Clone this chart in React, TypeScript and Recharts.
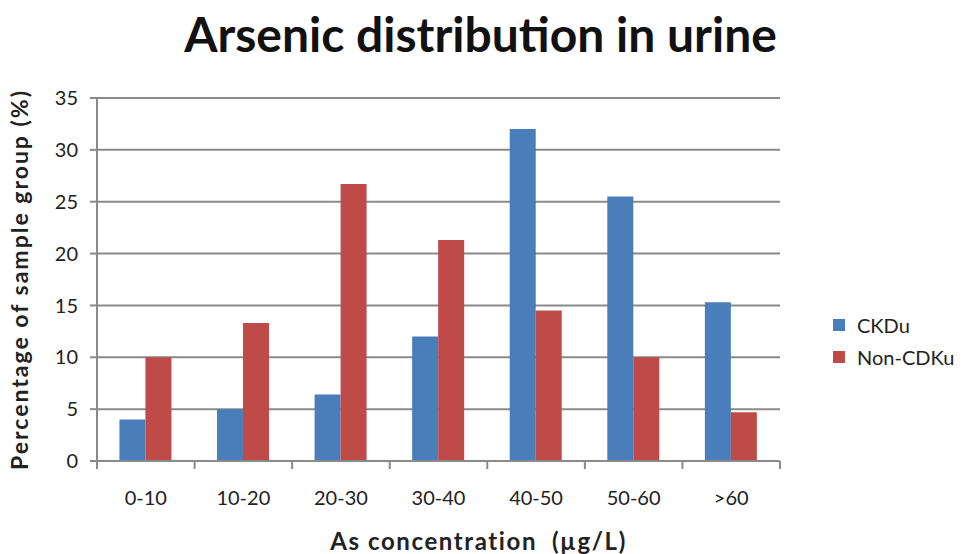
import React from 'react';
import { BarChart, Bar, XAxis, YAxis, CartesianGrid, Legend } from 'recharts';

const ranges = ['0-10', '10-20', '20-30', '30-40', '40-50', '50-60', '>60'];
const ckdu = [4, 5, 6.4, 12, 32, 25.5, 15.3];
const nonCdku = [10, 13.3, 26.7, 21.3, 14.5, 10, 4.7];
const yTicks = [0, 5, 10, 15, 20, 25, 30, 35];

const data = ranges.map((range, i) => ({ range, ckdu: ckdu[i], nonCdku: nonCdku[i] }));

const FONT = 'Lato, "Open Sans", sans-serif';
const GRID = '#8a8a8a';
const TICK_SIZE = 8;
const TICK_MARGIN = 14;

// category ticks: label in the middle, tick marks on the band edges
const CategoryTick = (props: any) => {
  const { x, y, payload, width, visibleTicksCount, index } = props;
  const half = width / visibleTicksCount / 2;
  const axisY = y - TICK_MARGIN - TICK_SIZE;
  return (
    <g>
      <line x1={x - half} x2={x - half} y1={axisY} y2={axisY + TICK_SIZE} stroke={GRID} strokeWidth={2} />
      {index === visibleTicksCount - 1 && (
        <line x1={x + half} x2={x + half} y1={axisY} y2={axisY + TICK_SIZE} stroke={GRID} strokeWidth={2} />
      )}
      <text x={x} y={y + 8} dy="0.71em" textAnchor="middle" fontFamily={FONT} fontSize={20} fill="#222">
        {payload.value}
      </text>
    </g>
  );
};

const renderLegend = (props: any) => {
  const { payload } = props;
  return (
    <div style={{ fontFamily: FONT, fontSize: 20, color: '#222' }}>
      {payload.map((entry: any) => (
        <div key={entry.value} style={{ display: 'flex', alignItems: 'center', height: 32 }}>
          <span style={{ width: 12, height: 12, background: entry.color, display: 'inline-block', marginRight: 12 }} />
          <span>{entry.value}</span>
        </div>
      ))}
    </div>
  );
};

export default function App() {
  return (
    <div style={{ position: 'absolute', left: 0, top: 0, width: 965, height: 554, background: '#fff' }}>
      <div
        style={{
          position: 'absolute',
          left: 0,
          width: 965,
          top: 5,
          textAlign: 'center',
          fontFamily: FONT,
          fontWeight: 700,
          fontSize: 48,
          color: '#111',
        }}
      >
        <span style={{ position: 'relative', left: -2 }}>Arsenic distribution in urine</span>
      </div>
      <BarChart
        width={965}
        height={554}
        data={data}
        margin={{ top: 98, right: 185, left: 0, bottom: 0 }}
        barCategoryGap="23%"
        barGap={0}
      >
        <CartesianGrid vertical={false} stroke={GRID} strokeWidth={2} />
        <XAxis
          dataKey="range"
          height={93}
          stroke={GRID}
          strokeWidth={2}
          tickLine={false}
          tickSize={TICK_SIZE}
          tickMargin={TICK_MARGIN}
          tick={<CategoryTick />}
          interval={0}
          label={{
            value: 'As concentration\u00a0\u00a0(µg/L)',
            position: 'insideBottom',
            offset: 4,
            dx: 40,
            style: { fontFamily: FONT, fontWeight: 700, fontSize: 24, letterSpacing: 1.6, fill: '#222' },
          }}
        />
        <YAxis
          width={97}
          domain={[0, 35]}
          ticks={yTicks}
          stroke={GRID}
          strokeWidth={2}
          tickSize={7}
          tickMargin={12}
          tick={{ fontFamily: FONT, fontSize: 20, fill: '#222' }}
          label={{
            value: 'Percentage of sample group (%)',
            angle: -90,
            position: 'insideLeft',
            offset: 20,
            style: { textAnchor: 'middle', fontFamily: FONT, fontWeight: 700, fontSize: 23, letterSpacing: 2, fill: '#222' },
          }}
        />
        <Legend
          content={renderLegend}
          layout="vertical"
          align="center"
          verticalAlign="middle"
          wrapperStyle={{ position: 'absolute', left: 833, top: 309, width: 130 }}
        />
        <Bar dataKey="ckdu" name="CKDu" fill="#4a7ebb" isAnimationActive={false} />
        <Bar dataKey="nonCdku" name="Non-CDKu" fill="#be4b48" isAnimationActive={false} />
      </BarChart>
    </div>
  );
}
